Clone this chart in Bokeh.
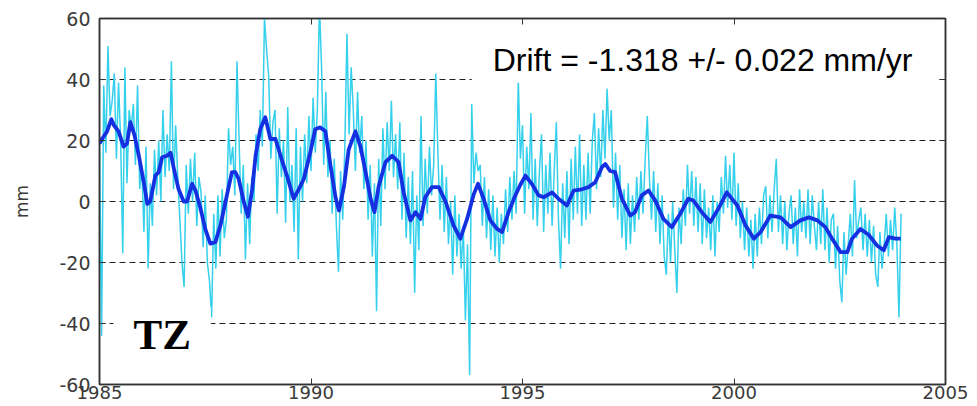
import numpy as np
from bokeh.plotting import figure
from bokeh.models import Range1d, FixedTicker, LinearAxis, Label
from bokeh.embed import file_html
from bokeh.resources import INLINE

# Station TZ, vertical component (mm)
# Raw series: one sample every 0.05 yr starting at 1985.0, one row per year
cyan_start = 1985.0
cyan_step = 0.05
cyan_mm = [
    # 1985
    18, -44, 38, 16, 51, 28, 33, 42, 14, 39, 20, -17, 44, 6, 30, 24, 32, 12, 38, 4,
    # 1986
    12, -10, 18, -22, 6, -8, 17, 2, 20, 0, 30, 8, 22, 10, 46, 4, 25, 8, -6, -20,
    # 1987
    -28, 12, -4, 14, 0, 16, -8, 8, 3, -15, 2, -20, -26, -38, -4, -22, 2, -18, 4, -12,
    # 1988
    -6, 24, 12, 18, 2, 46, 20, -4, 12, -19, 6, -14, 8, 0, 22, 10, 30, 18, 60, 50,
    # 1989
    41, 14, 26, 30, -4, 24, 8, 20, -7, 31, 0, 12, -10, 24, -19, 18, 0, 22, 6, 28,
    # 1990
    10, 34, 16, 30, 64, 44, 12, 36, 8, 20, -4, 14, -8, -23, 10, -6, 18, 55, 22, 44,
    # 1991
    30, 10, 36, 16, 28, 4, 20, -6, 12, -18, 6, -36, 14, -8, 24, 4, 26, 10, 33, 8,
    # 1992
    22, 4, 26, -6, 16, -12, 8, -14, 10, -30, 2, -16, 28, -8, 14, -4, 18, 2, 12, 42,
    # 1993
    16, -6, 12, -10, 8, -14, 0, -24, 2, -18, -4, -22, -8, -39, -14, -57, 32, 6, 16, 10,
    # 1994
    12, -8, 8, -12, 4, -16, 2, -18, -2, -20, -4, -14, 4, -10, 8, -6, 10, -4, 40, 14,
    # 1995
    25, -4, 18, 4, 29, -6, 14, -8, 10, 22, -10, 12, -4, 16, -8, 10, 26, -6, -22, 6,
    # 1996
    -12, 10, -14, 14, -6, 18, -4, 22, -8, 12, -6, 16, -4, 20, 29, 4, 24, 8, 30, 14,
    # 1997
    37, 20, 30, -2, 16, -6, 12, -12, 4, -16, 6, -14, 2, -10, 8, -6, 10, -4, 14, 28,
    # 1998
    8, -6, 10, -10, 6, -14, 2, -18, -24, -4, -20, 0, -16, -30, -2, -14, 4, -8, 12, -4,
    # 1999
    10, -8, 8, -10, 6, -14, 4, -12, -2, -16, 2, -18, 0, -10, 8, -4, 15, -2, 12, -6,
    # 2000
    16, -8, 6, -12, 0, -16, -2, -18, -6, -22, -4, -18, -2, -14, 2, 5, -12, 2, -10, 4,
    # 2001
    14, -10, 2, -14, 0, -16, -4, 2, -14, -2, -18, 4, -10, 0, -12, 4, -14, 2, -8, -16,
    # 2002
    0, -14, 4, -16, -2, -20, -6, -4, -22, -8, -26, -33, -10, -24, -14, -4, -18, 7, -12, -6,
    # 2003
    -2, -16, -4, -18, -6, -20, -8, -24, -28, -10, -22, -14, -4, -18, -6, -16, -2, -14, -38, -4,
]

# Smoothed series
smooth_year = [
    1985.00, 1985.06, 1985.18, 1985.28, 1985.34, 1985.45, 1985.57, 1985.65, 1985.73, 1985.83, 1985.93,
    1986.05, 1986.13, 1986.20, 1986.32, 1986.40, 1986.48, 1986.60, 1986.68, 1986.76, 1986.87, 1986.99,
    1987.07, 1987.19, 1987.27, 1987.39, 1987.50, 1987.62, 1987.74, 1987.86, 1987.98,
    1988.13, 1988.21, 1988.29, 1988.41, 1988.51, 1988.61, 1988.69, 1988.80, 1988.92,
    1989.04, 1989.16, 1989.28, 1989.43, 1989.59, 1989.71, 1989.83, 1989.99,
    1990.10, 1990.22, 1990.34, 1990.46, 1990.58, 1990.66, 1990.78, 1990.89,
    1991.05, 1991.17, 1991.29, 1991.41, 1991.50, 1991.60, 1991.76, 1991.92,
    1992.07, 1992.19, 1992.35, 1992.47, 1992.59, 1992.70, 1992.86,
    1993.02, 1993.18, 1993.37, 1993.53, 1993.69, 1993.85, 1993.95,
    1994.08, 1994.24, 1994.40, 1994.52, 1994.67, 1994.83, 1994.95,
    1995.07, 1995.22, 1995.38, 1995.50, 1995.70, 1995.85,
    1996.05, 1996.21, 1996.40, 1996.56, 1996.72, 1996.88, 1996.96,
    1997.07, 1997.19, 1997.35, 1997.55, 1997.66, 1997.82, 1997.98,
    1998.14, 1998.33, 1998.53, 1998.73, 1998.92,
    1999.04, 1999.24, 1999.44, 1999.63, 1999.83,
    2000.08, 2000.27, 2000.47, 2000.63, 2000.86,
    2001.10, 2001.34, 2001.57, 2001.77, 2001.97,
    2002.16, 2002.32, 2002.52, 2002.68, 2002.79, 2002.99,
    2003.19, 2003.38, 2003.54, 2003.66, 2003.82, 2003.94,
]
smooth_mm = [
    19, 20.5, 23, 27, 25, 23, 18, 19, 26, 21.6, 15,
    6, -0.8, 0, 8.5, 9.6, 14.5, 15, 16, 10.7, 4, 0,
    0, 5.8, 3.6, -2.4, -9, -13.8, -13.3, -7.8, 0,
    9.6, 9.6, 7.4, 0, -5, 4, 15, 23.7, 27.6,
    20.5, 20.5, 15, 8.5, 0.9, 4, 7.4, 16.5,
    23.7, 24.3, 23, 11.8, 1.4, -3, 5, 17,
    23, 18, 9.6, 0.9, -3.5, 5, 12.9, 15,
    12.9, 3, -6.2, -3.5, -5.7, 1.4, 4.7,
    4.7, 0, -7.8, -12.2, -5.7, 2.5, 5.8,
    0.9, -6.2, -9, -10, -3.5, 2, 5.5,
    8.5, 5.8, 2, 1.4, 3, 0.9,
    -1.3, 3.6, 4, 4.7, 6.3, 11.3, 12.3,
    10, 9.6, 0.9, -4.6, -3.5, 2, 3.6,
    0.3, -5.7, -8.4, -4, 0.9,
    0.3, -3.5, -6.7, -2.4, 3,
    -1.3, -7.8, -12.2, -10, -4.6,
    -5.2, -8.4, -6.2, -5.2, -6.2,
    -8.4, -12.2, -16.6, -16.6, -12.2, -9,
    -11, -14.4, -16, -11.7, -12.2, -12.2,
]

x_ticks = [1985, 1990, 1995, 2000, 2005]
x_tick_labels = ["1985", "1990", "1995", "2000", "2005"]
y_ticks = [-60, -40, -20, 0, 20, 40, 60]
y_tick_labels = ["-60", "-40", "-20", "0", "20", "40", "60"]
grid_levels = [-40, -20, 0, 20, 40]

drift_text = "Drift = -1.318 +/- 0.022 mm/yr"
station = "TZ"

cyan_year = cyan_start + cyan_step * np.arange(len(cyan_mm))

p = figure(width=977, height=406, output_backend="svg", toolbar_location=None,
           x_range=Range1d(1985, 2005), y_range=Range1d(-60, 60),
           min_border_left=99, min_border_right=32, min_border_top=18,
           min_border_bottom=22, background_fill_color="white",
           border_fill_color="white")

p.line(cyan_year, cyan_mm, line_color="#35d0ec", line_width=1.5)
p.line(smooth_year, smooth_mm, line_color="#1430e0", line_width=3.8,
       line_join="round")

axis_color = "#333333"
tick_font = "DejaVu Sans"

p.xaxis.ticker = FixedTicker(ticks=x_ticks)
p.xaxis.major_label_overrides = dict(zip(x_ticks, x_tick_labels))
p.yaxis.ticker = FixedTicker(ticks=y_ticks)
p.yaxis.major_label_overrides = dict(zip(y_ticks, y_tick_labels))

for ax in (p.xaxis, p.yaxis):
    ax.major_tick_in = 6
    ax.major_tick_out = 0
    ax.minor_tick_line_color = None
    ax.axis_line_color = axis_color
    ax.axis_line_width = 1.5
    ax.major_tick_line_color = axis_color
    ax.major_label_text_font = tick_font
    ax.major_label_text_color = "#3a3a3a"

p.xaxis.major_label_text_font_size = "18px"
p.xaxis.major_label_standoff = 1
p.yaxis.major_label_text_font_size = "19px"
p.yaxis.major_label_standoff = 9
p.yaxis.axis_label = "mm"
p.yaxis.axis_label_text_font = tick_font
p.yaxis.axis_label_text_font_size = "17px"
p.yaxis.axis_label_text_font_style = "normal"
p.yaxis.axis_label_text_color = "#3a3a3a"
p.yaxis.axis_label_standoff = 24

# Box ticks on the opposite sides (no labels)
top = LinearAxis(ticker=FixedTicker(ticks=x_ticks), major_label_text_font_size="0px",
                 major_label_text_color=None,
                 major_label_standoff=0, major_tick_in=6, major_tick_out=0,
                 minor_tick_line_color=None, axis_line_color=axis_color,
                 axis_line_width=1.5, major_tick_line_color=axis_color)
right = LinearAxis(ticker=FixedTicker(ticks=y_ticks), major_label_text_font_size="0px",
                   major_label_text_color=None,
                   major_label_standoff=0, major_tick_in=6, major_tick_out=0,
                   minor_tick_line_color=None, axis_line_color=axis_color,
                   axis_line_width=1.5, major_tick_line_color=axis_color)
p.add_layout(top, "above")
p.add_layout(right, "right")

p.xgrid.grid_line_color = None
p.ygrid.ticker = FixedTicker(ticks=grid_levels)
p.ygrid.grid_line_color = "#222222"
p.ygrid.grid_line_width = 1
p.ygrid.grid_line_dash = "6 4"
p.outline_line_color = axis_color
p.outline_line_width = 1.5

p.add_layout(Label(x=1993.80, y=46.6, text=drift_text, text_font="Liberation Sans",
                   text_font_size="32px", text_color="black", text_baseline="alphabetic",
                   background_fill_color="white",
                   padding=dict(left=21, right=26, top=6, bottom=5)))
p.add_layout(Label(x=1985.33, y=-43.6, text=station, text_font="Liberation Serif",
                   text_font_size="43px", text_font_style="bold", text_color="black",
                   text_baseline="alphabetic", background_fill_color="white",
                   padding=dict(left=20, right=20, top=4, bottom=4)))

open("out.html", "w").write(file_html(p, INLINE))
